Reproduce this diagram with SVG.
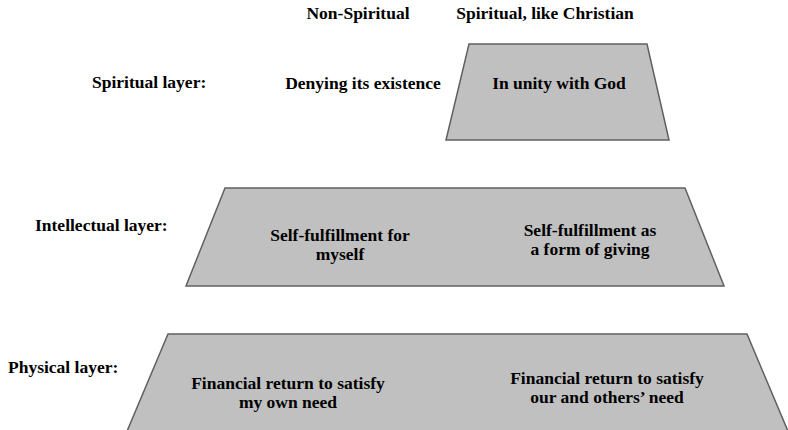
<svg xmlns="http://www.w3.org/2000/svg" width="788" height="430" viewBox="0 0 788 430">
  <style>
    .bg { fill: #ffffff; }
    .layer { fill: #c0c0c0; stroke: #606060; stroke-width: 1.5; }
    text { font-family: "Liberation Serif", "Times New Roman", serif; font-weight: bold; font-size: 17.5px; fill: #000000; }
    .c { text-anchor: middle; }
  </style>
  <rect class="bg" x="0" y="0" width="788" height="430"/>

  <!-- column headings -->
  <g id="headings">
    <text class="c" x="358" y="19">Non-Spiritual</text>
    <text class="c" x="545" y="19">Spiritual, like Christian</text>
  </g>

  <!-- layer labels -->
  <g id="labels">
    <text x="92" y="88">Spiritual layer:</text>
    <text x="35" y="231">Intellectual layer:</text>
    <text x="8" y="373">Physical layer:</text>
  </g>

  <!-- spiritual layer -->
  <g id="spiritual">
    <text class="c" x="363" y="89">Denying its existence</text>
    <polygon class="layer" points="469,44 647,44 669,140 446,140"/>
    <text class="c" x="559" y="89">In unity with God</text>
  </g>

  <!-- intellectual layer -->
  <g id="intellectual">
    <polygon class="layer" points="225,188 685,188 724,286 186,286"/>
    <text class="c" x="340" y="241">Self-fulfillment for</text>
    <text class="c" x="340" y="260">myself</text>
    <text class="c" x="590" y="236">Self-fulfillment as</text>
    <text class="c" x="590" y="255">a form of giving</text>
  </g>

  <!-- physical layer, running off the bottom edge -->
  <g id="physical">
    <polygon class="layer" points="168,334 747,334 790,436 125,436"/>
    <text class="c" x="288" y="389">Financial return to satisfy</text>
    <text class="c" x="288" y="408">my own need</text>
    <text class="c" x="607" y="384">Financial return to satisfy</text>
    <text class="c" x="607" y="403">our and others’ need</text>
  </g>
</svg>
